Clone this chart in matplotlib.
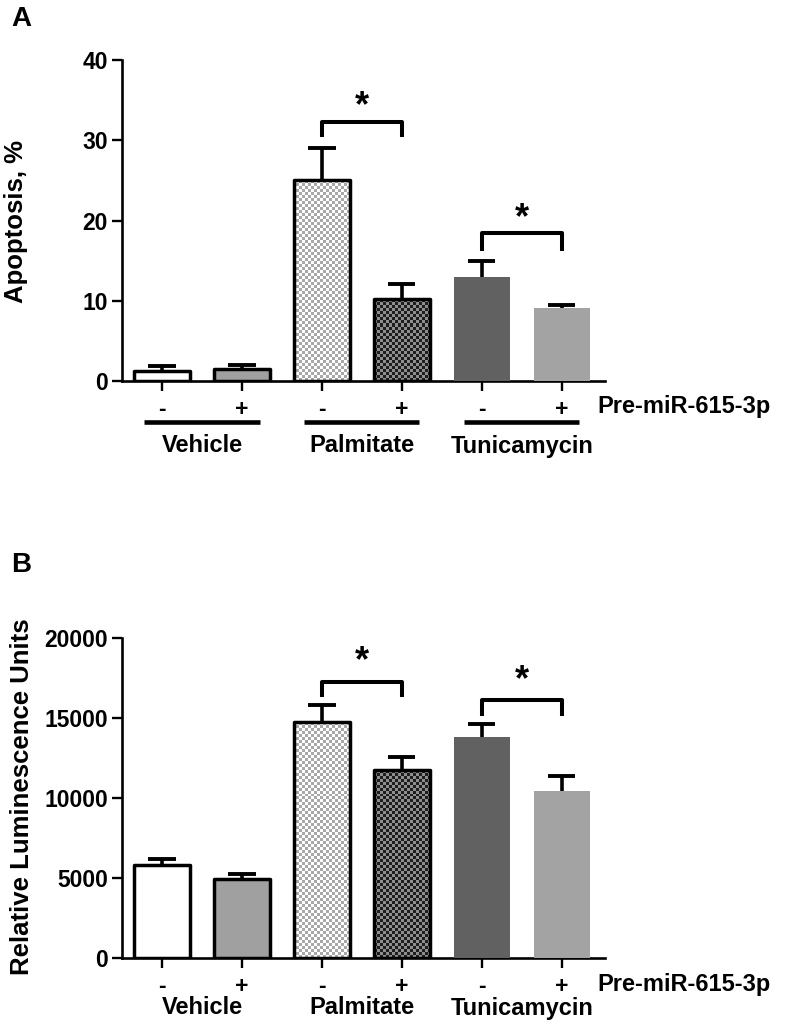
"""
Apoptosis (A) and caspase luminescence (B) bar panels.
"""

import numpy as np
import matplotlib
matplotlib.use("Agg")
import matplotlib.pyplot as plt
from matplotlib.transforms import blended_transform_factory

plt.rcParams["font.family"] = ["Liberation Sans", "DejaVu Sans"]
plt.rcParams["font.weight"] = "bold"

#--------------
# Data
#--------------
groups = ["Vehicle", "Palmitate", "Tunicamycin"]
signs = ["-", "+", "-", "+", "-", "+"]
premir_label = "Pre-miR-615-3p"

apoptosis_mean = [1.25, 1.45, 25.0, 10.25, 12.9, 9.1]
apoptosis_err = [0.6, 0.55, 4.0, 1.85, 2.0, 0.35]

rlu_mean = [5810, 4940, 14750, 11750, 13810, 10440]
rlu_err = [370, 310, 1060, 810, 810, 940]

# bracket pairs: (left bar, right bar, leg bottom, bracket top, star y)
apoptosis_sig = [(2, 3, 30.6, 32.3, 34.2), (4, 5, 16.5, 18.4, 20.2)]
rlu_sig = [(2, 3, 16450, 17250, 18500), (4, 5, 15250, 16150, 17350)]

# bar styles: face colour, or checker pattern name; edge drawn or not
faces = ["white", "#a0a0a0", "light_check", "dark_check", "#616161", "#a3a3a3"]
edged = [True, True, True, True, False, False]
checkers = {"light_check": ("#ffffff", "#a8a8a8"),
            "dark_check": ("#1e1e1e", "#8e8e8e")}

BAR_W = 0.7
X = np.arange(len(signs))


def checker_image(ax, colors, cell_px=3.0):
    """Checkerboard RGB image covering the whole axes area."""
    bb = ax.get_window_extent()
    nx = int(round(bb.width / cell_px))
    ny = int(round(bb.height / cell_px))
    c0 = np.array(matplotlib.colors.to_rgb(colors[0]))
    c1 = np.array(matplotlib.colors.to_rgb(colors[1]))
    ii, jj = np.meshgrid(np.arange(nx), np.arange(ny))
    mask = ((ii + jj) % 2).astype(bool)
    return np.where(mask[..., None], c1, c0)


def draw_panel(ax, means, errs, sig, ylim, yticks, group_lines):
    ax.set_xlim(-0.5, 5.54)
    ax.set_ylim(*ylim)

    for i, (m, e) in enumerate(zip(means, errs)):
        face = faces[i]
        is_check = face in checkers
        bar = ax.bar(X[i], m, width=BAR_W,
                     color="none" if is_check else face,
                     edgecolor="black" if edged[i] else "none",
                     linewidth=2.5 if edged[i] else 0,
                     joinstyle="round", zorder=3)[0]
        if is_check:
            img = checker_image(ax, checkers[face])
            im = ax.imshow(img, extent=(-0.5, 5.54, ylim[0], ylim[1]),
                           interpolation="nearest", aspect="auto", zorder=2)
            im.set_clip_path(bar)
        # upper error bar only
        ax.vlines(X[i], m, m + e, color="black", linewidth=2.6, zorder=2.5)
        ax.hlines(m + e, X[i] - 0.17, X[i] + 0.17, color="black",
                  linewidth=2.8, zorder=2.5)

    for a, b, leg, top, star in sig:
        ax.plot([X[a], X[a], X[b], X[b]], [leg, top, top, leg],
                color="black", linewidth=2.9, solid_joinstyle="round", zorder=4)
        ax.text((X[a] + X[b]) / 2, star, "*", ha="center", va="center",
                fontsize=26, fontweight="bold")

    ax.set_xlim(-0.5, 5.54)
    ax.set_ylim(*ylim)
    ax.set_yticks(yticks)
    ax.set_yticklabels([str(t) for t in yticks], fontsize=16.5, fontweight="bold")
    ax.set_xticks(X)
    ax.set_xticklabels(signs, fontsize=16.5, fontweight="bold")
    ax.tick_params(axis="both", length=7, width=1.7, direction="out")
    ax.tick_params(axis="x", pad=5)
    ax.tick_params(axis="y", pad=3)
    for s in ["top", "right"]:
        ax.spines[s].set_visible(False)
    for s in ["left", "bottom"]:
        ax.spines[s].set_linewidth(1.9)

    h_px = ax.get_window_extent().height
    trans = blended_transform_factory(ax.transData, ax.transAxes)
    ax.text(5.45, -26 / h_px, premir_label, transform=trans, ha="left",
            va="center", fontsize=17, fontweight="bold")
    name_y = -65 / h_px if group_lines else -50 / h_px
    for g, name in enumerate(groups):
        cx = (X[2 * g] + X[2 * g + 1]) / 2
        if group_lines:
            ax.plot([cx - 0.72, cx + 0.72], [-41 / h_px] * 2, transform=trans,
                    color="black", linewidth=3.3, clip_on=False,
                    solid_capstyle="butt")
        ax.text(cx, name_y, name, transform=trans, ha="center", va="center",
                fontsize=17, fontweight="bold")


fig = plt.figure(figsize=(7.97, 10.32), dpi=100)
W, H = 797, 1032
ax_a = fig.add_axes([122 / W, 1 - 381 / H, 483 / W, 321 / H])
ax_b = fig.add_axes([122 / W, 1 - 958 / H, 483 / W, 320 / H])

draw_panel(ax_a, apoptosis_mean, apoptosis_err, apoptosis_sig,
           (0, 40), [0, 10, 20, 30, 40], True)
draw_panel(ax_b, rlu_mean, rlu_err, rlu_sig,
           (0, 20000), [0, 5000, 10000, 15000, 20000], False)

fig.text(16 / W, 1 - 222 / H, "Apoptosis, %", rotation=90, ha="center",
         va="center", fontsize=18.5, fontweight="bold")
fig.text(22 / W, 1 - 797 / H, "Relative Luminescence Units", rotation=90,
         ha="center", va="center", fontsize=18.5, fontweight="bold")
fig.text(11 / W, 1 - 6 / H, "A", ha="left", va="top", fontsize=20,
         fontweight="bold")
fig.text(11 / W, 1 - 552 / H, "B", ha="left", va="top", fontsize=20,
         fontweight="bold")

fig.savefig("out.png", dpi=100)
